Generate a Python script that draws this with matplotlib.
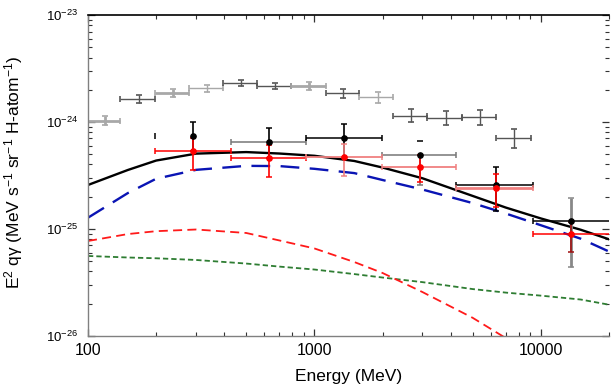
import matplotlib
matplotlib.use("Agg")
import matplotlib.pyplot as plt
import matplotlib.ticker as mticker
import numpy as np

# model curves (MeV, MeV s^-1 sr^-1 H-atom^-1)
energy = [100, 150, 200, 300, 500, 700, 1000, 1500, 2000, 3000, 5000, 7000, 10000, 15000, 20000]
total = [2.57e-25, 3.55e-25, 4.35e-25, 5.05e-25, 5.22e-25, 5.06e-25, 4.82e-25, 4.31e-25,
         3.74e-25, 2.97e-25, 2.03e-25, 1.58e-25, 1.25e-25, 9.8e-26, 7.98e-26]
pion = [1.27e-25, 2.16e-25, 2.94e-25, 3.56e-25, 3.88e-25, 3.86e-25, 3.64e-25, 3.32e-25,
        2.86e-25, 2.33e-25, 1.74e-25, 1.39e-25, 1.08e-25, 8.08e-26, 6.13e-26]
brems = [7.69e-26, 8.93e-26, 9.5e-26, 9.85e-26, 9.14e-26, 7.78e-26, 6.55e-26, 4.89e-26,
         3.86e-26, 2.56e-26, 1.47e-26, 9.5e-27]
ic = [5.57e-26, 5.39e-26, 5.30e-26, 5.11e-26, 4.73e-26, 4.43e-26, 4.16e-26, 3.77e-26,
      3.50e-26, 3.17e-26, 2.73e-26, 2.53e-26, 2.37e-26, 2.18e-26, 1.95e-26]

# gray reference points
g_e = [118.5, 168, 237.4, 335.3, 475.2, 671.4, 945.6, 1340.6, 1901, 2667, 3808, 5379, 7600]
g_edges = [100, 138.9, 197.0, 279.2, 394.5, 559.1, 789.9, 1120.6, 1577, 2228, 3148, 4466, 6328, 9006]
g_val = [1.026e-24, 1.63e-24, 1.86e-24, 2.06e-24, 2.30e-24, 2.17e-24, 2.15e-24,
         1.85e-24, 1.70e-24, 1.14e-24, 1.08e-24, 1.10e-24, 7.0e-25]
g_lo = [9.32e-25, 1.50e-24, 1.72e-24, 1.92e-24, 2.15e-24, 2.04e-24, 1.98e-24,
        1.68e-24, 1.51e-24, 0.99e-24, 0.93e-24, 0.94e-24, 5.76e-25]
g_hi = [1.13e-24, 1.77e-24, 2.02e-24, 2.21e-24, 2.45e-24, 2.30e-24, 2.34e-24,
        2.05e-24, 1.91e-24, 1.31e-24, 1.26e-24, 1.30e-24, 8.55e-25]

# black and red points
p_e = [292, 628, 1355, 2930, 6310, 13600]
p_edges = [197, 430, 916, 1990, 4240, 9200, 25000]
k_val = [7.43e-25, 6.53e-25, 7.03e-25, 4.90e-25, 2.59e-25, 1.19e-25]
k_lo = [5.3e-25, 4.6e-25, 4.7e-25, 2.57e-25, 1.47e-25, 4.41e-26]
k_hi = [9.9e-25, 8.83e-25, 9.56e-25, 4.90e-25, 3.76e-25, 1.95e-25]
r_val = [5.38e-25, 4.57e-25, 4.73e-25, 3.81e-25, 2.43e-25, 8.93e-26]
r_lo = [3.55e-25, 3.03e-25, 3.12e-25, 2.75e-25, 1.61e-25, 6.1e-26]
r_hi = [7.0e-25, 6.08e-25, 6.17e-25, 4.9e-25, 3.24e-25, 1.15e-25]

# lone cap marks that show without their bar lines
cap_x_e, cap_x_v = [197], [7.43e-25]
cap_y_e, cap_y_v = [2930], [6.63e-25]

y_ticks = [1e-26, 1e-25, 1e-24, 1e-23]
x_ticks = [100, 1000, 10000]

plt.rcParams['font.family'] = ['Liberation Sans', 'DejaVu Sans']
plt.rcParams['mathtext.fontset'] = 'custom'
plt.rcParams['mathtext.rm'] = 'Liberation Sans'
plt.rcParams['mathtext.it'] = 'Liberation Sans:italic'
plt.rcParams['mathtext.bf'] = 'Liberation Sans:bold'
plt.rcParams['lines.scale_dashes'] = False

fig = plt.figure(figsize=(6.13, 3.87), dpi=100)
ax = fig.add_axes([88 / 613, 1 - 335.7 / 387, 521 / 613, 320.7 / 387])
ax.set_xscale('log')
ax.set_yscale('log')

ax.plot(energy, ic, color='#2e7d32', lw=1.3, dashes=(3.8, 2.2))
ax.plot(energy[:len(brems)], brems, color='#ff1a1a', lw=1.3, dashes=(6.5, 3.8))
ax.plot(energy, pion, color='#0a14b4', lw=1.7, dashes=(13.5, 7.5))
ax.plot(energy, total, color='black', lw=1.7)

# gray points
g_cols = ['#a8a8a8', '#555555', '#a8a8a8', '#a8a8a8', '#555555', '#555555', '#a8a8a8',
          '#555555', '#a8a8a8', '#555555', '#555555', '#555555', '#555555']
g_lw = [2, 1, 2, 1, 1, 1, 2, 1, 1, 1, 1, 1, 1]
for i in range(len(g_e)):
    ax.errorbar(g_e[i], g_val[i],
                xerr=[[g_e[i] - g_edges[i]], [g_edges[i + 1] - g_e[i]]],
                yerr=[[g_val[i] - g_lo[i]], [g_hi[i] - g_val[i]]],
                fmt='none', ecolor=g_cols[i], elinewidth=g_lw[i], capsize=2, capthick=1.2)

# black points
kx_cols = [None, '#777777', 'black', '#777777', 'black', 'black']
ky_cols = ['black', 'black', 'black', '#777777', 'black', '#888888']
ky_lw = [1.2, 1.2, 1.2, 1.2, 1.2, 2.0]
for i in range(len(p_e)):
    if kx_cols[i] is not None:
        ax.errorbar(p_e[i], k_val[i],
                    xerr=[[p_e[i] - p_edges[i]], [p_edges[i + 1] - p_e[i]]],
                    fmt='none', ecolor=kx_cols[i], elinewidth=1.1, capsize=2.4, capthick=1.1)
    ax.errorbar(p_e[i], k_val[i],
                yerr=[[k_val[i] - k_lo[i]], [k_hi[i] - k_val[i]]],
                fmt='none', ecolor=ky_cols[i], elinewidth=ky_lw[i], capsize=2.4, capthick=1.1)
ax.plot(cap_x_e, cap_x_v, '|', color='black', ms=4, mew=1.1)
ax.plot(cap_y_e, cap_y_v, '_', color='black', ms=4, mew=1.1)
ax.plot(p_e, k_val, 'o', color='black', ms=3.8, zorder=5)

# red points
rx_cols = ['red', 'red', '#f08080', '#f08080', '#f08080', 'red']
rx_lw = [1.1, 1.1, 1.3, 1.3, 2.0, 1.1]
ry_cols = ['red', 'red', '#f08080', 'red', 'red', '#a01010']
for i in range(len(p_e)):
    ax.errorbar(p_e[i], r_val[i],
                xerr=[[p_e[i] - p_edges[i]], [p_edges[i + 1] - p_e[i]]],
                fmt='none', ecolor=rx_cols[i], elinewidth=rx_lw[i], capsize=2.4, capthick=1.1)
    ax.errorbar(p_e[i], r_val[i],
                yerr=[[r_val[i] - r_lo[i]], [r_hi[i] - r_val[i]]],
                fmt='none', ecolor=ry_cols[i], elinewidth=1.2, capsize=2.4, capthick=1.1)
ax.plot(p_e, r_val, 'o', color='red', ms=3.8, zorder=6)

ax.set_xlim(100, 20000)
ax.set_ylim(1e-26, 1e-23)

for side in ['left', 'bottom']:
    ax.spines[side].set_color('#808080')
    ax.spines[side].set_linewidth(1.0)
ax.spines['top'].set_color('black')
ax.spines['top'].set_linewidth(1.2)
ax.spines['right'].set_visible(False)

ax.set_yticks(y_ticks)
ax.yaxis.set_major_formatter(mticker.LogFormatterSciNotation())
ax.yaxis.set_minor_formatter(mticker.NullFormatter())
ax.set_xticks(x_ticks)
ax.set_xticklabels([str(t) for t in x_ticks])
ax.xaxis.set_minor_formatter(mticker.NullFormatter())
ax.set_xlim(100, 20000)
ax.set_ylim(1e-26, 1e-23)

ax.tick_params(which='both', direction='in', top=True, right=True, color='#333333')
ax.tick_params(which='major', length=5, width=0.9)
ax.tick_params(which='minor', length=3, width=0.8)
ax.tick_params(axis='x', which='major', labelsize=11.5, pad=5)
ax.tick_params(axis='y', which='major', labelsize=9.5, pad=7)

ax.set_xlabel('Energy (MeV)', fontsize=12.5, labelpad=8)
fig.text(14 / 613, 1 - 172 / 387,
         'E$^{2}$ q\u03b3 (MeV s$^{-1}$ sr$^{-1}$ H-atom$^{-1}$)',
         rotation=90, ha='center', va='center', fontsize=12.5)

fig.savefig('out.png', dpi=100)
